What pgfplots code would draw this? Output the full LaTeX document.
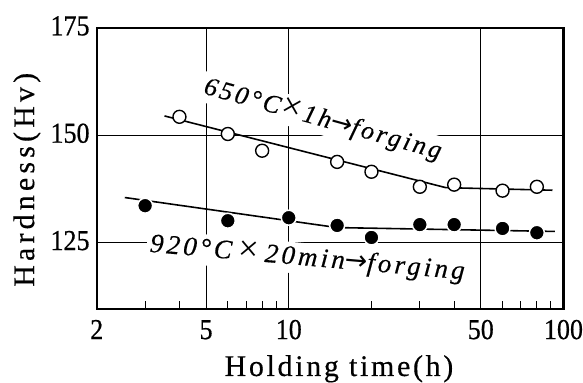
\documentclass[border=0pt]{standalone}
\usepackage{fontspec}
\setmainfont{Liberation Serif}
\newfontfamily\tickfont[FakeStretch=0.9, FakeBold=0.6]{Liberation Serif}
\newfontfamily\labfont[FakeBold=0.4]{Liberation Serif}
\newfontfamily\timesfont{Liberation Serif}
\newfontfamily\arrowfont{DejaVu Sans}
\newcommand{\bigtimes}{{\timesfont\fontsize{36}{36}\selectfont ×}}
\usepackage{pgfplots}
\pgfplotsset{compat=1.18}
\begin{document}
\begin{tikzpicture}
\begin{axis}[
  scale only axis, width=468pt, height=282pt,
  xmode=log, xmin=2, xmax=100, ymin=109.5, ymax=175,
  xtick={2,5,10,50,100}, xticklabels={2,5,10,50,100},
  minor xtick={3,4,6,7,8,9,20,30,40,60,70,80,90},
  ytick={125,150,175}, yticklabels={125,150,175},
  xtick pos=left, ytick pos=left,
  tick align=inside,
  major tick length=0pt, minor tick length=8pt,
  tick style={line width=0.9pt, black},
  grid=major, major grid style={line width=0.8pt, black},
  axis line style={line width=2.2pt},
  tick label style={font=\fontsize{29}{29}\tickfont, inner sep=0pt},
  xticklabel style={anchor=base, yshift=-30pt},
  yticklabel style={anchor=east, xshift=-7pt, yshift=2pt},
  xlabel={\addfontfeatures{LetterSpace=9}Holding\ time(h)},
  ylabel={\addfontfeatures{LetterSpace=14}Hardness(Hv)},
  label style={font=\fontsize{30}{30}\labfont, inner sep=0pt},
  xlabel style={at={(axis description cs:0.519,0)}, anchor=base, yshift=-67pt},
  ylabel style={at={(axis description cs:-0.1496,0.46)}, anchor=center},
  clip=false,
]
\draw[draw=none] (rel axis cs:0,0) ++(-97pt,-73pt) rectangle (rel axis cs:1,1) ++(18pt,28pt);
\node[rotate=-15.5, anchor=base, fill=white, inner sep=3pt,
      font=\fontsize{26}{26}\labfont\itshape\addfontfeatures{LetterSpace=11}]
  at (axis cs:13.1,152.1) {650°C\bigtimes 1h{\arrowfont →}forging};
\node[rotate=-5, anchor=base, fill=white, inner sep=3pt,
      font=\fontsize{27}{27}\labfont\itshape\addfontfeatures{LetterSpace=12}]
  at (axis cs:11.62,119.65) {920°C\,\bigtimes\,20min{\arrowfont →}forging};
% fitted lines
\addplot[line width=1.6pt, black] coordinates {(3.53,154.5) (37.3,137.8) (91.2,137.2)};
\addplot[line width=1.6pt, black] coordinates {(2.53,135.5) (15,128.5) (93,127.6)};
% open circles
\addplot[only marks, mark=*, mark size=6.5pt, mark options={fill=white, draw=black, line width=1.4pt}]
  coordinates {(4,154.3) (6,150.3) (8,146.4) (15,143.8) (20,141.5) (30,138.0) (40,138.5) (60,137.1) (80,138.0)};
% filled circles
\addplot[only marks, mark=*, mark size=7.5pt, mark options={fill=black, draw=white, line width=1.5pt}]
  coordinates {(3,133.6) (6,130.1) (10,130.8) (15,129.0) (20,126.2) (30,129.2) (40,129.2) (60,128.3) (80,127.3)};
\end{axis}
\end{tikzpicture}
\end{document}
